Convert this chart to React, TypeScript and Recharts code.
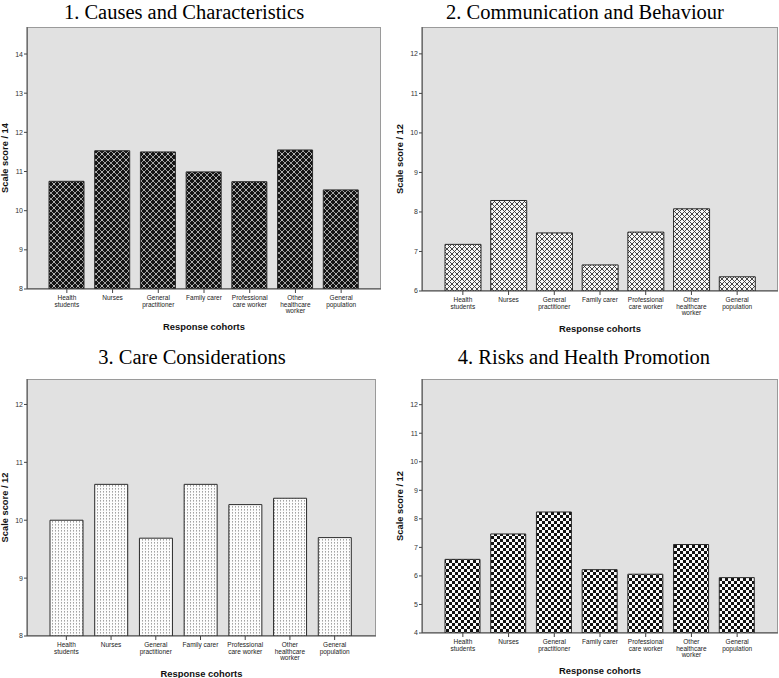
// Four SPSS-style bar panels: knowledge scale scores by response cohort
import React from 'react';
import { BarChart, Bar, XAxis, YAxis } from 'recharts';

const cohorts = [
  'Health\nstudents',
  'Nurses',
  'General\npractitioner',
  'Family carer',
  'Professional\ncare worker',
  'Other\nhealthcare\nworker',
  'General\npopulation',
];

const causesScores = [10.75, 11.53, 11.5, 10.99, 10.74, 11.55, 10.53];
const communicationScores = [7.18, 8.29, 7.47, 6.66, 7.49, 8.08, 6.36];
const careScores = [10.0, 10.62, 9.69, 10.62, 10.27, 10.38, 9.7];
const risksScores = [6.58, 7.47, 8.24, 6.22, 6.06, 7.1, 5.94];

const causesTicks = [8, 9, 10, 11, 12, 13, 14];
const communicationTicks = [6, 7, 8, 9, 10, 11, 12];
const careTicks = [8, 9, 10, 11, 12];
const risksTicks = [4, 5, 6, 7, 8, 9, 10, 11, 12];

const SANS = '"Liberation Sans", Arial, sans-serif';
const SERIF = '"Liberation Serif", "Times New Roman", serif';
const AXW = 30; // y axis strip
const MT = 8;
const XAH = 34;

const CohortTick = ({ x, y, payload }: any) => {
  const lines = String(payload.value).split('\n');
  return (
    <text x={x} y={y} textAnchor="middle" fontSize={6.5} fill="#222" fontFamily={SANS}>
      {lines.map((l, i) => (
        <tspan key={i} x={x} dy={i === 0 ? 5 : 6.7}>
          {l}
        </tspan>
      ))}
    </text>
  );
};

function Pattern({ id, kind }: { id: string; kind: number }) {
  if (kind === 1)
    return (
      <pattern id={id} width={6} height={6} patternUnits="userSpaceOnUse">
        <rect width={6} height={6} fill="#141414" />
        <path d="M-1,-1 L7,7 M7,-1 L-1,7" stroke="#a0a0a0" strokeWidth={1} />
        <rect x={2.5} y={2.5} width={1} height={1} fill="#e8e8e8" />
      </pattern>
    );
  if (kind === 2)
    return (
      <pattern id={id} width={5} height={5} patternUnits="userSpaceOnUse">
        <rect width={5} height={5} fill="#f6f6f6" />
        <path d="M-1,-1 L6,6 M6,-1 L-1,6" stroke="#333" strokeWidth={0.9} />
      </pattern>
    );
  if (kind === 3)
    return (
      <pattern id={id} width={3} height={3} patternUnits="userSpaceOnUse">
        <rect width={3} height={3} fill="#fcfcfc" />
        <rect x={1} y={0} width={1} height={1.6} fill="#a2a2a2" />
      </pattern>
    );
  return (
    <pattern id={id} width={6} height={6} patternUnits="userSpaceOnUse">
      <rect width={6} height={6} fill="#fafafa" />
      <rect x={0} y={0} width={3} height={3} fill="#111" />
      <rect x={3} y={3} width={3} height={3} fill="#111" />
    </pattern>
  );
}

type PanelProps = {
  id: string;
  kind: number;
  values: number[];
  ticks: number[];
  domain: [number, number];
  x0: number;
  x1: number;
  y0: number;
  y1: number;
  padL: number;
  padR: number;
  barSize: number;
};

function Panel(p: PanelProps) {
  const data = cohorts.map((name, i) => ({ name, score: p.values[i] }));
  const w = p.x1 - p.x0;
  const h = p.y1 - p.y0;
  return (
    <>
      <div
        style={{
          position: 'absolute',
          left: p.x0,
          top: p.y0,
          width: w,
          height: h,
          background: '#e1e1e1',
          border: '1px solid #9a9a9a',
          boxSizing: 'border-box',
        }}
      />
      <div style={{ position: 'absolute', left: p.x0 - AXW, top: p.y0 - MT }}>
        <BarChart
          width={AXW + w + 1}
          height={MT + h + XAH}
          data={data}
          margin={{ top: MT, right: 1, bottom: 0, left: 0 }}
        >
          <defs>
            <Pattern id={p.id} kind={p.kind} />
          </defs>
          <XAxis
            dataKey="name"
            interval={0}
            height={XAH}
            padding={{ left: p.padL, right: p.padR }}
            tickSize={4}
            axisLine={{ stroke: '#444' }}
            tickLine={{ stroke: '#444' }}
            tick={<CohortTick />}
          />
          <YAxis
            type="number"
            width={AXW}
            domain={p.domain}
            ticks={p.ticks}
            interval={0}
            allowDataOverflow
            tickSize={3}
            tickMargin={1}
            axisLine={{ stroke: '#444' }}
            tickLine={{ stroke: '#444' }}
            tick={{ fontSize: 7, fill: '#333', fontFamily: SANS }}
          />
          <Bar
            dataKey="score"
            fill={`url(#${p.id})`}
            stroke="#2a2a2a"
            strokeWidth={1}
            barSize={p.barSize}
            isAnimationActive={false}
          />
        </BarChart>
      </div>
    </>
  );
}

const panels = [
  { id: 'pat1', kind: 1, values: causesScores, ticks: causesTicks, domain: [8, 14.69] as [number, number], x0: 27, x1: 381, y0: 27, y1: 289, padL: 17, padR: 17, barSize: 35, title: '1. Causes and Characteristics', titleX: 184, titleY: 18.5, yLabel: 'Scale score / 14' },
  { id: 'pat2', kind: 2, values: communicationScores, ticks: communicationTicks, domain: [6, 12.68] as [number, number], x0: 422, x1: 778, y0: 27, y1: 291, padL: 18, padR: 18, barSize: 36, title: '2. Communication and Behaviour', titleX: 585, titleY: 18.5, yLabel: 'Scale score / 12' },
  { id: 'pat3', kind: 3, values: careScores, ticks: careTicks, domain: [8, 12.44] as [number, number], x0: 27, x1: 376, y0: 379, y1: 636, padL: 17, padR: 19, barSize: 33, title: '3. Care Considerations', titleX: 192, titleY: 364, yLabel: 'Scale score / 12' },
  { id: 'pat4', kind: 4, values: risksScores, ticks: risksTicks, domain: [4, 12.9] as [number, number], x0: 422, x1: 778, y0: 379, y1: 633, padL: 18, padR: 18, barSize: 35, title: '4. Risks and Health Promotion', titleX: 584, titleY: 364, yLabel: 'Scale score / 12' },
];

export default function App() {
  return (
    <div style={{ position: 'absolute', left: 0, top: 0, width: 779, height: 678, background: '#fff', overflow: 'hidden' }}>
      {panels.map((p) => (
        <Panel key={p.id} {...p} />
      ))}
      <svg width={779} height={678} style={{ position: 'absolute', left: 0, top: 0, pointerEvents: 'none' }}>
        {panels.map((p) => (
          <g key={p.id}>
            <text x={p.titleX} y={p.titleY} textAnchor="middle" fontSize={20.5} fontFamily={SERIF} fill="#000">
              {p.title}
            </text>
            <text
              x={p.x0 - 22}
              y={(p.y0 + p.y1) / 2}
              transform={`rotate(-90 ${p.x0 - 22} ${(p.y0 + p.y1) / 2})`}
              textAnchor="middle"
              dominantBaseline="central"
              fontSize={9.3}
              fontWeight="bold"
              fontFamily={SANS}
              fill="#111"
            >
              {p.yLabel}
            </text>
            <text
              x={(p.x0 + p.x1) / 2}
              y={p.y1 + 41}
              textAnchor="middle"
              fontSize={9.4}
              fontWeight="bold"
              fontFamily={SANS}
              fill="#111"
            >
              Response cohorts
            </text>
          </g>
        ))}
      </svg>
    </div>
  );
}
